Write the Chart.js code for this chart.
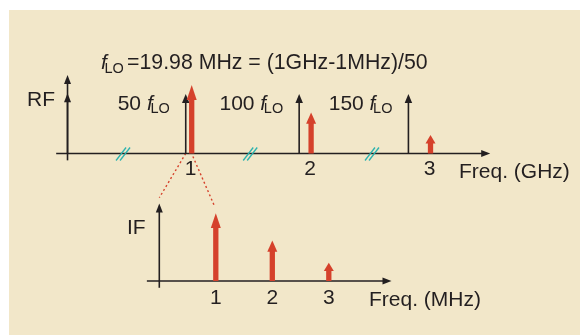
<!DOCTYPE html>
<html>
<head>
<meta charset="utf-8">
<script src="https://cdn.jsdelivr.net/npm/chart.js@4"></script>
<style>
  html, body { margin: 0; padding: 0; background: #fff; }
  #wrap { position: relative; width: 580px; height: 335px; }
</style>
</head>
<body>
<div id="wrap"><canvas id="myChart" width="580" height="335"></canvas></div>
<script>
// 1. DATOS DEL DIAGRAMA

// RF (GHz): señales de entrada
const rfFreq = [1, 2, 3];
const rfAmp = [1.0, 0.6, 0.27];

// armónicos del LO (posición tal como está dibujada)
const loFreq = [0.95, 1.9, 2.815];
const loAmp = [0.87, 0.87, 0.87];
const loMult = ["50", "100", "150"];

// IF (MHz)
const ifFreq = [1, 2, 3];
const ifAmp = [1.0, 0.6, 0.27];

const rfTicks = ["1", "2", "3"];
const ifTicks = ["1", "2", "3"];

// cortes "//" del eje RF
const rfBreaks = [0.425, 1.49, 2.51];

// líneas punteadas de zoom: desde el eje RF hasta el eje IF
const zoomDesdeRF = [0.95, 1.01];
const zoomHastaIF = [0.0, 0.975];
const zoomAltoIF = [1.23, 1.11];

const titulo = "=19.98 MHz = (1GHz-1MHz)/50";

// 2. COLORES Y FUENTES

const ROJO = "#D5412B";
const NEGRO = "#231F20";
const TURQUESA = "#2DB3AE";
const FONDO = "#F2E7C9";
const FUENTE = "'Liberation Sans', Arial, sans-serif";
const TAM = 21;     // tamaño de texto normal
const SUB = 14.5;   // tamaño del subíndice

// 3. FUNCIONES DE DIBUJO

function flechaV(ctx, x, y0, y1, lw, hw, hh, color) {
  ctx.strokeStyle = color;
  ctx.fillStyle = color;
  ctx.lineWidth = lw;
  ctx.lineCap = "butt";
  ctx.beginPath();
  ctx.moveTo(x, y0);
  ctx.lineTo(x, y1 + hh * 0.8);
  ctx.stroke();
  ctx.beginPath();
  ctx.moveTo(x, y1);
  ctx.lineTo(x - hw / 2, y1 + hh);
  ctx.lineTo(x + hw / 2, y1 + hh);
  ctx.closePath();
  ctx.fill();
}

function flechaH(ctx, x0, x1, y, lw, hw, hh, color) {
  ctx.strokeStyle = color;
  ctx.fillStyle = color;
  ctx.lineWidth = lw;
  ctx.beginPath();
  ctx.moveTo(x0, y);
  ctx.lineTo(x1 - hh * 0.8, y);
  ctx.stroke();
  ctx.beginPath();
  ctx.moveTo(x1, y);
  ctx.lineTo(x1 - hh, y - hw / 2);
  ctx.lineTo(x1 - hh, y + hw / 2);
  ctx.closePath();
  ctx.fill();
}

// dibuja "f" cursiva con subíndice "LO", devuelve el ancho
function fLO(ctx, x, y, medir) {
  ctx.font = "italic " + TAM + "px " + FUENTE;
  const wf = ctx.measureText("f").width;
  ctx.font = SUB + "px " + FUENTE;
  const wl = ctx.measureText("LO").width;
  const ancho = wf * 0.6 + wl;
  if (medir) return ancho;
  ctx.textAlign = "left";
  ctx.textBaseline = "alphabetic";
  ctx.fillStyle = NEGRO;
  ctx.font = "italic " + TAM + "px " + FUENTE;
  ctx.fillText("f", x, y);
  ctx.font = SUB + "px " + FUENTE;
  ctx.fillText("LO", x + wf * 0.6, y + 3.5);
  return ancho;
}

const diagrama = {
  id: "diagrama",
  beforeDraw(chart) {
    const ctx = chart.ctx;
    ctx.save();
    ctx.fillStyle = "#fff";
    ctx.fillRect(0, 0, chart.width, chart.height);
    ctx.fillStyle = FONDO;
    ctx.fillRect(9, 10, chart.width - 9, chart.height - 10);
    ctx.restore();
  },
  afterDatasetsDraw(chart) {
    const ctx = chart.ctx;
    const s = chart.scales;
    const baseRF = s.yRF.getPixelForValue(0);
    const baseIF = s.yIF.getPixelForValue(0);
    ctx.save();

    // líneas punteadas de zoom
    ctx.strokeStyle = ROJO;
    ctx.lineWidth = 1.4;
    ctx.setLineDash([2, 2.6]);
    zoomDesdeRF.forEach((f, i) => {
      ctx.beginPath();
      ctx.moveTo(s.xRF.getPixelForValue(f), baseRF + i * 3);
      ctx.lineTo(s.xIF.getPixelForValue(zoomHastaIF[i]), s.yIF.getPixelForValue(zoomAltoIF[i]));
      ctx.stroke();
    });
    ctx.setLineDash([]);

    // eje RF
    const xEjeRF = s.xRF.getPixelForValue(-0.04);
    flechaH(ctx, s.xRF.getPixelForValue(-0.135), s.xRF.getPixelForValue(3.5), baseRF, 1.6, 7, 9, NEGRO);
    flechaV(ctx, xEjeRF, s.yRF.getPixelForValue(-0.1), s.yRF.getPixelForValue(1.146), 1.6, 7, 9, NEGRO);
    flechaV(ctx, xEjeRF, baseRF, s.yRF.getPixelForValue(0.88), 1.6, 7, 9, NEGRO);

    // cortes "//"
    ctx.strokeStyle = TURQUESA;
    ctx.lineWidth = 1.3;
    rfBreaks.forEach(b => {
      const x = s.xRF.getPixelForValue(b);
      [-2, 2].forEach(o => {
        ctx.beginPath();
        ctx.moveTo(x + o - 5, baseRF + 7);
        ctx.lineTo(x + o + 5, baseRF - 6);
        ctx.stroke();
      });
    });

    // eje IF
    const xEjeIF = s.xIF.getPixelForValue(0);
    flechaH(ctx, s.xIF.getPixelForValue(-0.22), s.xIF.getPixelForValue(4.11), baseIF, 1.6, 7, 9, NEGRO);
    flechaV(ctx, xEjeIF, s.yIF.getPixelForValue(-0.1), s.yIF.getPixelForValue(1.146), 1.6, 7, 9, NEGRO);

    // flechas de los datasets
    chart.data.datasets.forEach((ds, i) => {
      const meta = chart.getDatasetMeta(i);
      const base = ds.yAxisID === "yRF" ? baseRF : baseIF;
      meta.data.forEach(el => {
        if (ds.estilo === "lo") {
          flechaV(ctx, el.x, base, el.y, 1.6, 7.5, 9, NEGRO);
        } else {
          const largo = base - el.y;
          flechaV(ctx, el.x, base, el.y, 5.3, 10, 6 + 0.13 * largo, ROJO);
        }
      });
    });

    // textos
    ctx.fillStyle = NEGRO;
    ctx.textBaseline = "alphabetic";

    // título
    fLO(ctx, 101, 69);
    ctx.font = "21.3px " + FUENTE;
    ctx.textAlign = "left";
    ctx.fillText(titulo, 127, 69);

    ctx.font = TAM + "px " + FUENTE;
    ctx.fillText("RF", 27, 106);
    ctx.fillText("IF", 127, 234);
    ctx.fillText("Freq. (GHz)", 459, 178);
    ctx.fillText("Freq. (MHz)", 369, 306);

    // etiquetas de los armónicos del LO
    loFreq.forEach((f, i) => {
      const xa = s.xRF.getPixelForValue(f);
      ctx.font = TAM + "px " + FUENTE;
      const wn = ctx.measureText(loMult[i] + " ").width;
      const wl = fLO(ctx, 0, 0, true);
      const x0 = xa - 16 - wn - wl;
      ctx.font = TAM + "px " + FUENTE;
      ctx.textAlign = "left";
      ctx.fillStyle = NEGRO;
      ctx.fillText(loMult[i] + " ", x0, 109.5);
      fLO(ctx, x0 + wn, 109.5);
    });

    // marcas de los ejes
    ctx.font = TAM + "px " + FUENTE;
    ctx.textAlign = "center";
    ctx.fillStyle = NEGRO;
    rfTicks.forEach((t, i) => {
      ctx.fillText(t, s.xRF.getPixelForValue(rfFreq[i]) - 1, 174.5);
    });
    ifTicks.forEach((t, i) => {
      ctx.fillText(t, s.xIF.getPixelForValue(ifFreq[i]), 304);
    });

    ctx.restore();
  }
};

// 4. GRÁFICO

const puntos = (xs, ys) => xs.map((x, i) => ({ x: x, y: ys[i] }));

const config = {
  type: "scatter",
  data: {
    datasets: [
      { label: "LO", estilo: "lo", data: puntos(loFreq, loAmp), xAxisID: "xRF", yAxisID: "yRF", pointRadius: 0 },
      { label: "RF", estilo: "rf", data: puntos(rfFreq, rfAmp), xAxisID: "xRF", yAxisID: "yRF", pointRadius: 0 },
      { label: "IF", estilo: "if", data: puntos(ifFreq, ifAmp), xAxisID: "xIF", yAxisID: "yIF", pointRadius: 0 }
    ]
  },
  options: {
    responsive: false,
    animation: false,
    layout: { padding: 0 },
    plugins: { legend: { display: false }, tooltip: { enabled: false } },
    scales: {
      xRF: { type: "linear", axis: "x", display: false, min: -0.6055, max: 4.252 },
      yRF: { type: "linear", axis: "y", display: false, min: -2.6496, max: 2.2409 },
      xIF: { type: "linear", axis: "x", display: false, min: -2.8195, max: 7.446 },
      yIF: { type: "linear", axis: "y", display: false, min: -0.7976, max: 4.1507 }
    }
  },
  plugins: [diagrama]
};

const chart = new Chart(document.getElementById("myChart"), config);
</script>
</body>
</html>
